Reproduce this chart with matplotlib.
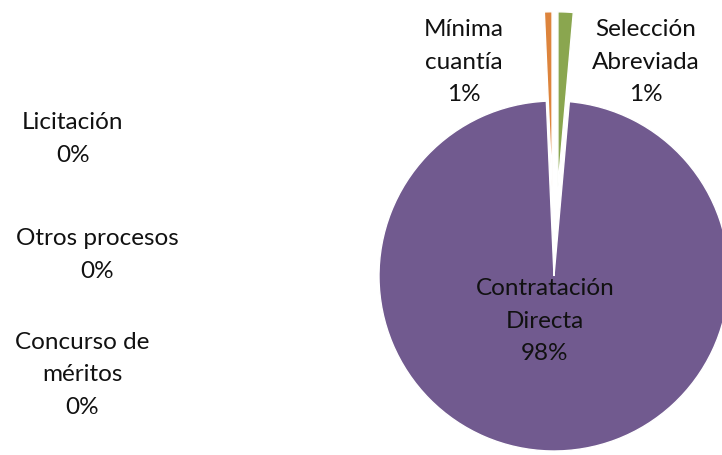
import matplotlib
matplotlib.use("Agg")
import matplotlib.pyplot as plt

# data (shares of contracts by modality)
labels = ["Selección\nAbreviada", "Contratación\nDirecta", "Mínima\ncuantía",
          "Licitación", "Otros procesos", "Concurso de\nméritos"]
values = [1.4, 97.9, 0.7, 0.0, 0.0, 0.0]
colors = ["#8aa64f", "#715a8f", "#dd843c", "#4f81bd", "#c0504d", "#4bacc6"]
explode = [0.51, 0.0, 0.51, 0.0, 0.0, 0.0]

# where Excel put the labels (pixel centres, y measured from top)
label_pos = [(646, 62), (545, 321), (464, 62), (73, 139), (97, 255), (82, 375)]

W, H = 722, 456
R = 175
plt.rcParams["font.family"] = ["Lato", "DejaVu Sans"]

fig = plt.figure(figsize=(W / 100, H / 100), dpi=100)
ax = fig.add_axes([0, 0, 1, 1])

# matplotlib adds explode in data units, so scale it by the radius
ax.pie(values, colors=colors, explode=[e * R for e in explode], startangle=90,
       counterclock=False, radius=R, center=(554, H - 277),
       wedgeprops=dict(edgecolor="white", linewidth=1.0))

ax.set_xlim(0, W)
ax.set_ylim(0, H)
ax.set_aspect("equal")
ax.axis("off")

total = sum(values)
for lab, v, (x, y) in zip(labels, values, label_pos):
    txt = f"{lab}\n{round(v / total * 100):.0f}%"
    ax.text(x, H - y, txt, ha="center", va="center", fontsize=17.5,
            linespacing=1.7, color="#111111")

fig.savefig("out.png", dpi=100)
